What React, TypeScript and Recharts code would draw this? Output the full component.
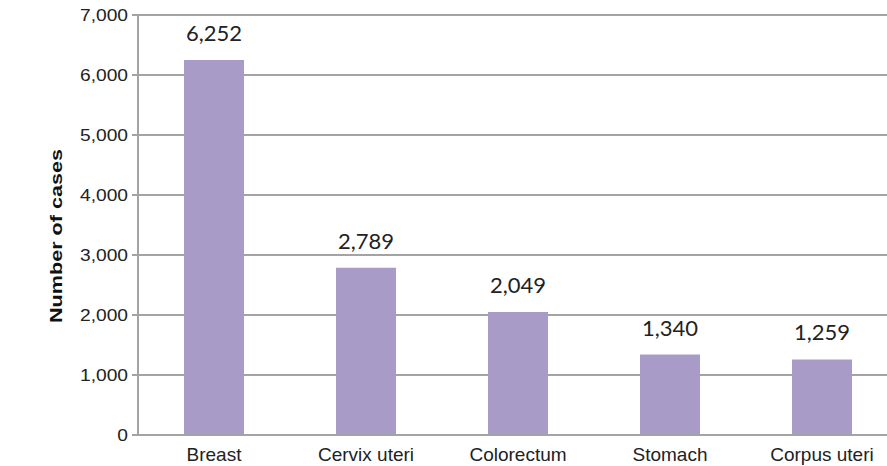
import { Bar, BarChart, CartesianGrid, LabelList, XAxis, YAxis } from "recharts";

const sites = ["Breast", "Cervix uteri", "Colorectum", "Stomach", "Corpus uteri"];
const cases = [6252, 2789, 2049, 1340, 1259];
const yTicks = [0, 1000, 2000, 3000, 4000, 5000, 6000, 7000];

const data = sites.map((site, i) => ({ site, cases: cases[i] }));

const fmt = (v: number) => v.toLocaleString("en-US");

function YTick(props: any) {
  const { x, y, payload } = props;
  return (
    <g transform={`translate(${x - 2},${y}) scale(1.2,1)`}>
      <text x={0} y={6} textAnchor="end" fontFamily="Liberation Sans, Arial, sans-serif" fontSize={16} fill="#222">
        {fmt(payload.value)}
      </text>
    </g>
  );
}

function XTick(props: any) {
  const { x, payload } = props;
  return (
    <text x={x} y={461} textAnchor="middle" fontFamily="Liberation Sans, Arial, sans-serif" fontSize={19} fill="#222">
      {payload.value}
    </text>
  );
}

function ValueLabel(props: any) {
  const { x, y, width, value } = props;
  return (
    <text x={x + width / 2} y={y - 19} textAnchor="middle" fontFamily="Lato, sans-serif" fontSize={22} fill="#222">
      {fmt(value)}
    </text>
  );
}

function AxisTitle() {
  return (
    <g transform="translate(62,236) rotate(-90) scale(1.35,1)">
      <text x={0} y={0} textAnchor="middle" fontFamily="Liberation Sans, Arial, sans-serif" fontWeight="bold" fontSize={16} fill="#111">
        Number of cases
      </text>
    </g>
  );
}

export default function App() {
  return (
    <div style={{ position: "absolute", left: 0, top: 0, width: 887, height: 466, overflow: "hidden", background: "#fff" }}>
      <BarChart width={900} height={466} data={data} margin={{ top: 15, right: 2, left: 0, bottom: 0 }}>
        <CartesianGrid vertical={false} stroke="#a3a3a3" strokeWidth={2} />
        <XAxis
          dataKey="site"
          height={31}
          tickLine={false}
          axisLine={{ stroke: "#a3a3a3", strokeWidth: 2 }}
          tick={<XTick />}
          interval={0}
        />
        <YAxis
          width={138}
          domain={[0, 7000]}
          ticks={yTicks}
          tickSize={6}
          tickLine={{ stroke: "#a3a3a3", strokeWidth: 2 }}
          axisLine={{ stroke: "#a3a3a3", strokeWidth: 2 }}
          tick={<YTick />}
          label={<AxisTitle />}
        />
        <Bar dataKey="cases" fill="#a99bc8" barSize={60} isAnimationActive={false}>
          <LabelList dataKey="cases" content={<ValueLabel />} />
        </Bar>
      </BarChart>
    </div>
  );
}
